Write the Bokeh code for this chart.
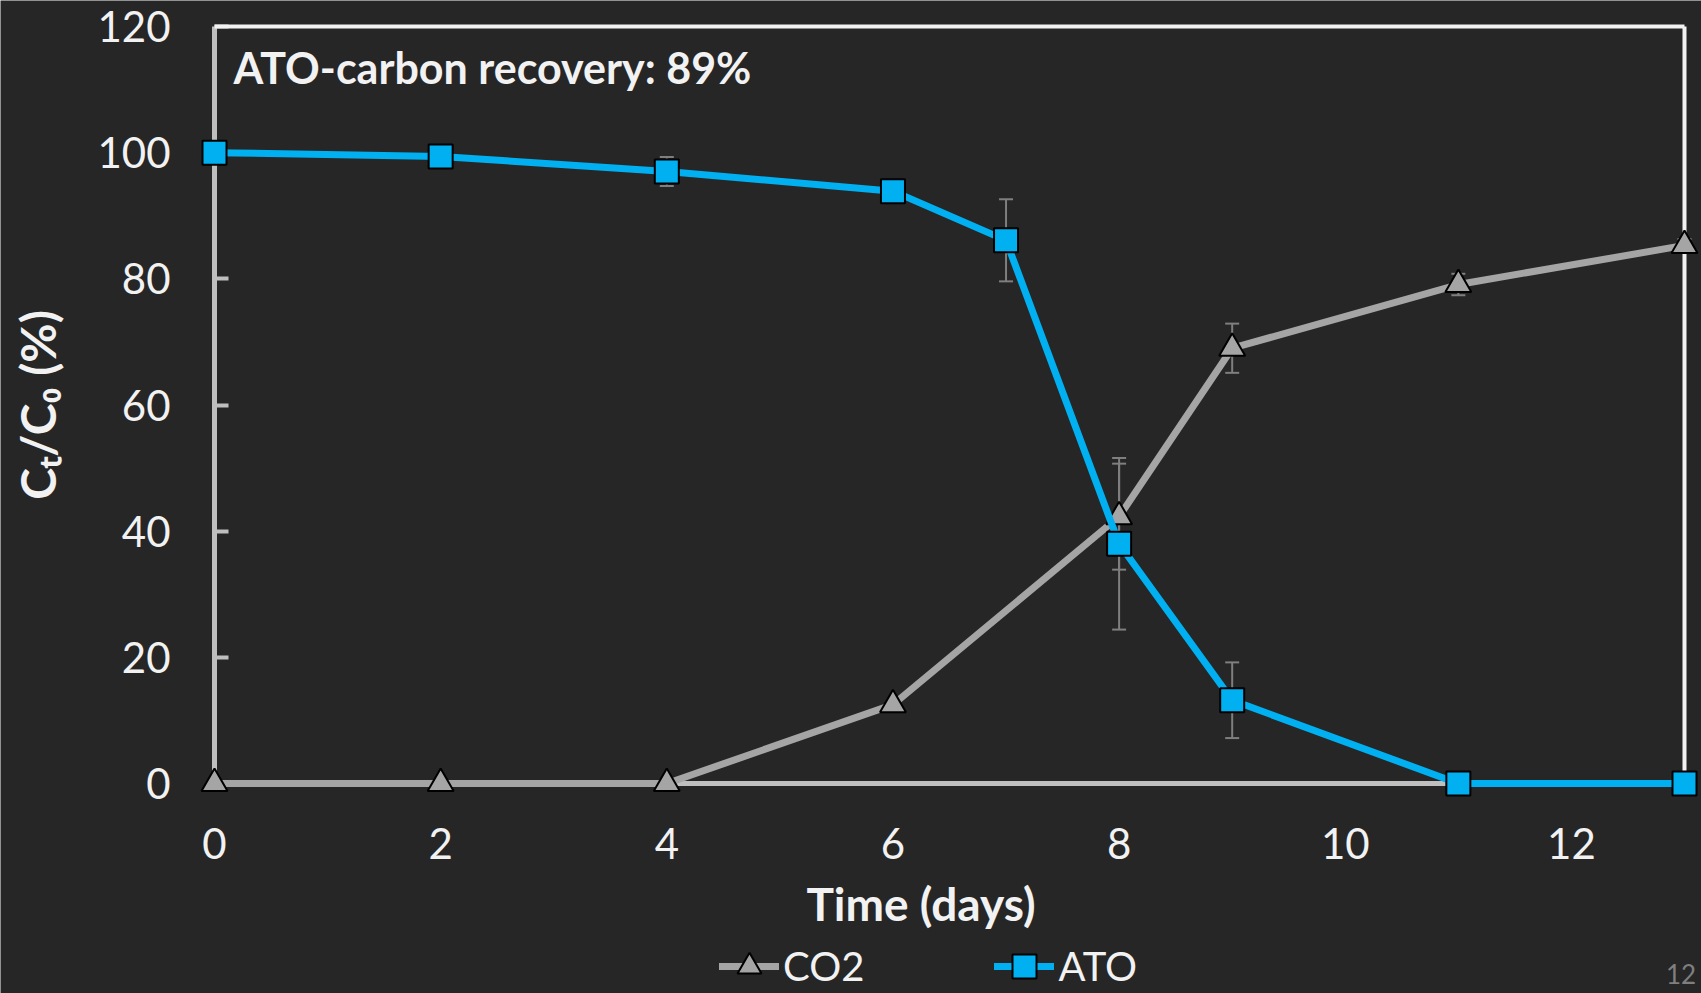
from bokeh.plotting import figure
from bokeh.models import (Range1d, ColumnDataSource, Whisker, TeeHead, Legend,
                          LegendItem, Label, FixedTicker)
from bokeh.embed import file_html
from bokeh.resources import INLINE

# ---------------- data ----------------
days_co2 = [0, 2, 4, 6, 8, 9, 11, 13]
co2 = [0, 0, 0, 12.5, 42.3, 69.0, 79.1, 85.3]
co2_err = [0, 0, 0, 0, 8.4, 3.9, 1.7, 1.0]

days_ato = [0, 2, 4, 6, 7, 8, 9, 11, 13]
ato = [100, 99.4, 97.0, 93.9, 86.1, 38.0, 13.2, 0, 0]
ato_err = [0, 0, 2.3, 0, 6.5, 13.6, 6.0, 0, 0]

x_ticks = [0, 2, 4, 6, 8, 10, 12]
y_ticks = [0, 20, 40, 60, 80, 100, 120]
x_lim = (0, 13)
y_lim = (0, 120)
series_names = ["CO2", "ATO"]
annotation = "ATO-carbon recovery: 89%"
x_title = "Time (days)"
y_title = "C\u209c/C\u2080 (%)"
slide_no = "12"

# ---------------- layout / style ----------------
BG = "#262626"
W, H = 1701, 993
PX_X = 1470 / 13.0          # px per day
PX_Y = 757 / 120.0          # px per %
X0_PX, Y0_PX = 214, 783     # page position of the origin
x_start = -X0_PX / PX_X
x_end = x_start + W / PX_X
y_start = -(H - Y0_PX) / PX_Y
y_end = y_start + H / PX_Y

FONT = "Lato"
TXT = "#f2f2f2"
CO2_C = "#a5a5a5"
ATO_C = "#00b0f0"
AXIS_C = "#bfbfbf"
ERR_C = "#7f7f7f"
LW = 7

p = figure(width=W, height=H,
           x_range=Range1d(x_start, x_end), y_range=Range1d(y_start, y_end),
           min_border_left=0, min_border_right=0,
           min_border_top=0, min_border_bottom=0,
           background_fill_color=BG, border_fill_color=BG,
           outline_line_color=None, output_backend="svg",
           toolbar_location=None)
p.xgrid.grid_line_color = None
p.ygrid.grid_line_color = None

# x axis (line end under the ATO line shifted so the title sits like the original)
xa = p.xaxis[0]
xa.fixed_location = 0
xa.bounds = (x_lim[0], x_lim[1] - 0.5)
xa.ticker = FixedTicker(ticks=x_ticks)
xa.axis_line_color = AXIS_C
xa.axis_line_width = 5
xa.major_tick_line_color = None
xa.minor_tick_line_color = None
xa.major_tick_in = 0
xa.major_tick_out = 0
xa.minor_tick_in = 0
xa.minor_tick_out = 0
xa.major_label_text_font = FONT
xa.major_label_text_font_size = "42px"
xa.major_label_text_color = TXT
xa.major_label_standoff = 44
xa.axis_label = x_title
xa.axis_label_text_font = FONT
xa.axis_label_text_font_style = "bold"
xa.axis_label_text_font_size = "46px"
xa.axis_label_text_color = TXT
xa.axis_label_standoff = 14
xa.level = "underlay"

# y axis
ya = p.yaxis[0]
ya.fixed_location = 0
ya.bounds = y_lim
ya.ticker = FixedTicker(ticks=y_ticks)
ya.axis_line_color = AXIS_C
ya.axis_line_width = 5
ya.major_tick_line_color = AXIS_C
ya.major_tick_line_width = 4
ya.major_tick_in = 14
ya.major_tick_out = 0
ya.minor_tick_line_color = None
ya.minor_tick_in = 0
ya.minor_tick_out = 0
ya.major_label_text_font = FONT
ya.major_label_text_font_size = "42px"
ya.major_label_text_color = TXT
ya.major_label_standoff = 44
ya.axis_label = y_title
ya.axis_label_text_font = FONT
ya.axis_label_text_font_style = "bold"
ya.axis_label_text_font_size = "48px"
ya.axis_label_text_color = TXT
ya.axis_label_standoff = 28
ya.level = "underlay"

# top / right frame lines
p.segment(x0=[x_lim[0], x_lim[1]], y0=[y_lim[1], y_lim[0]],
          x1=[x_lim[1], x_lim[1]], y1=[y_lim[1], y_lim[1]],
          line_color=TXT, line_width=4)

# error bars
def err_source(xs, ys, es):
    bx, up, lo = [], [], []
    for x, y, e in zip(xs, ys, es):
        if e > 0:
            bx.append(x)
            up.append(y + e)
            lo.append(y - e)
    return ColumnDataSource(dict(base=bx, upper=up, lower=lo))

for xs, ys, es in [(days_co2, co2, co2_err), (days_ato, ato, ato_err)]:
    w = Whisker(source=err_source(xs, ys, es), base="base", upper="upper",
                lower="lower", dimension="height", line_color=ERR_C,
                line_width=2, level="underlay",
                upper_head=TeeHead(size=14, line_color=ERR_C, line_width=2),
                lower_head=TeeHead(size=14, line_color=ERR_C, line_width=2))
    p.add_layout(w)

# series
co2_line = p.line(days_co2, co2, line_color=CO2_C, line_width=LW,
                  line_join="round", line_cap="round")
co2_pts = p.scatter(days_co2, co2, marker="triangle", size=26,
                    fill_color=CO2_C, line_color="black", line_width=2)
ato_line = p.line(days_ato, ato, line_color=ATO_C, line_width=LW,
                  line_join="round", line_cap="round")
ato_pts = p.scatter(days_ato, ato, marker="square", size=24,
                    fill_color=ATO_C, line_color="black", line_width=2)

legend = Legend(items=[LegendItem(label=series_names[0], renderers=[co2_line, co2_pts]),
                       LegendItem(label=series_names[1], renderers=[ato_line, ato_pts])],
                location=(719, -3), orientation="horizontal",
                background_fill_alpha=0, border_line_color=None,
                label_text_font=FONT, label_text_font_size="40px",
                label_text_color=TXT, glyph_width=60, glyph_height=60,
                label_standoff=4, spacing=130, padding=0, margin=0)
p.add_layout(legend)

p.add_layout(Label(x=19 / PX_X, y=113.5, text=annotation, text_font=FONT,
                   text_font_style="bold", text_font_size="43px",
                   text_color=TXT, text_baseline="middle"))
p.add_layout(Label(x=12.97, y=-30.2, text=slide_no, text_font=FONT,
                   text_font_size="26px", text_color="#7f7f7f",
                   text_align="center", text_baseline="middle"))

open("out.html", "w").write(file_html(p, INLINE))
